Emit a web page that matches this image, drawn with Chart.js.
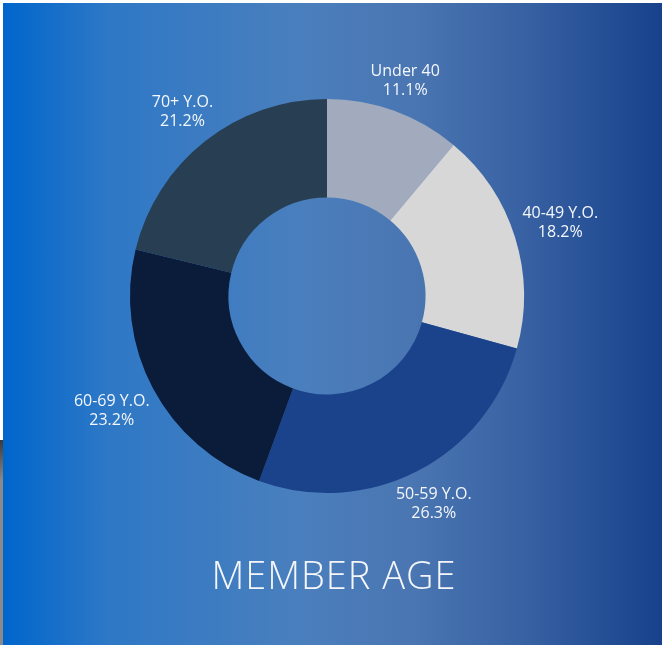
<!DOCTYPE html>
<html lang="en">
<head>
    <meta charset="UTF-8">
    <title>Member Age</title>
    <script src="https://cdn.jsdelivr.net/npm/chart.js"></script>
    <style>
        body { margin: 0; background: #ffffff; width: 662px; height: 645px; position: relative; overflow: hidden; }
        .side-strip { position: absolute; left: 0; top: 440px; width: 3px; height: 205px; background: linear-gradient(#3a3a3a, #8a8a8a 20%, #8a8a8a); }
        .panel {
            position: absolute; left: 3px; top: 3px; width: 659px; height: 642px;
            background: linear-gradient(to right, #0066cc 0%, #2e78c6 16%, #4a7fbd 45%, #4a76b2 62%, #3760a2 80%, #17428b 100%);
        }
        .chart-box { position: absolute; left: 0; top: 0; width: 659px; height: 642px; }
        .title {
            position: absolute; left: 0; width: 662px; top: 545px; text-align: center;
            color: #f4f6fa; font-family: "Open Sans", sans-serif; font-weight: 300; font-size: 38px;
            letter-spacing: 1px;
        }
    </style>
</head>
<body>
    <div class="side-strip"></div>
    <div class="panel">
        <div class="chart-box"><canvas id="ageChart"></canvas></div>
        <div class="title">MEMBER AGE</div>
    </div>

<script>
    // dados do gráfico
    const ageGroups = ['Under 40', '40-49 Y.O.', '50-59 Y.O.', '60-69 Y.O.', '70+ Y.O.'];
    const agePercents = [11.1, 18.2, 26.3, 23.2, 21.2];
    const sliceColors = ['#a1abbd', '#d7d7d7', '#1b438b', '#0b1b3a', '#283e53'];

    // rótulos fora da rosca (nome + percentual)
    const outsideLabels = {
        id: 'outsideLabels',
        afterDatasetsDraw(chart) {
            const ctx = chart.ctx;
            const meta = chart.getDatasetMeta(0);
            ctx.save();
            ctx.font = '16px "Open Sans", sans-serif';
            ctx.fillStyle = '#f4f7fb';
            ctx.textAlign = 'center';
            ctx.textBaseline = 'middle';
            meta.data.forEach((arc, i) => {
                const p = arc.getProps(['x', 'y', 'startAngle', 'endAngle', 'outerRadius']);
                const mid = (p.startAngle + p.endAngle) / 2;
                const line1 = ageGroups[i];
                const line2 = agePercents[i].toFixed(1) + '%';
                const w = Math.max(ctx.measureText(line1).width, ctx.measureText(line2).width);
                const h = 28;
                const r = p.outerRadius + 7 + Math.abs(Math.cos(mid)) * w / 2 + Math.abs(Math.sin(mid)) * h / 2;
                const lx = p.x + Math.cos(mid) * r;
                const ly = p.y + Math.sin(mid) * r;
                ctx.fillText(line1, lx, ly - 9.5);
                ctx.fillText(line2, lx, ly + 9.5);
            });
            ctx.restore();
        }
    };

    const ctx = document.getElementById('ageChart').getContext('2d');

    const ageChart = new Chart(ctx, {
        type: 'doughnut',
        data: {
            labels: ageGroups,
            datasets: [{
                data: agePercents,
                backgroundColor: sliceColors,
                borderWidth: 0
            }]
        },
        options: {
            responsive: true,
            maintainAspectRatio: false,
            animation: false,
            cutout: '50%',
            layout: {
                padding: { left: 127, top: 96, right: 138, bottom: 152 }
            },
            plugins: {
                legend: { display: false },
                tooltip: { enabled: false }
            }
        },
        plugins: [outsideLabels]
    });
</script>
</body>
</html>
